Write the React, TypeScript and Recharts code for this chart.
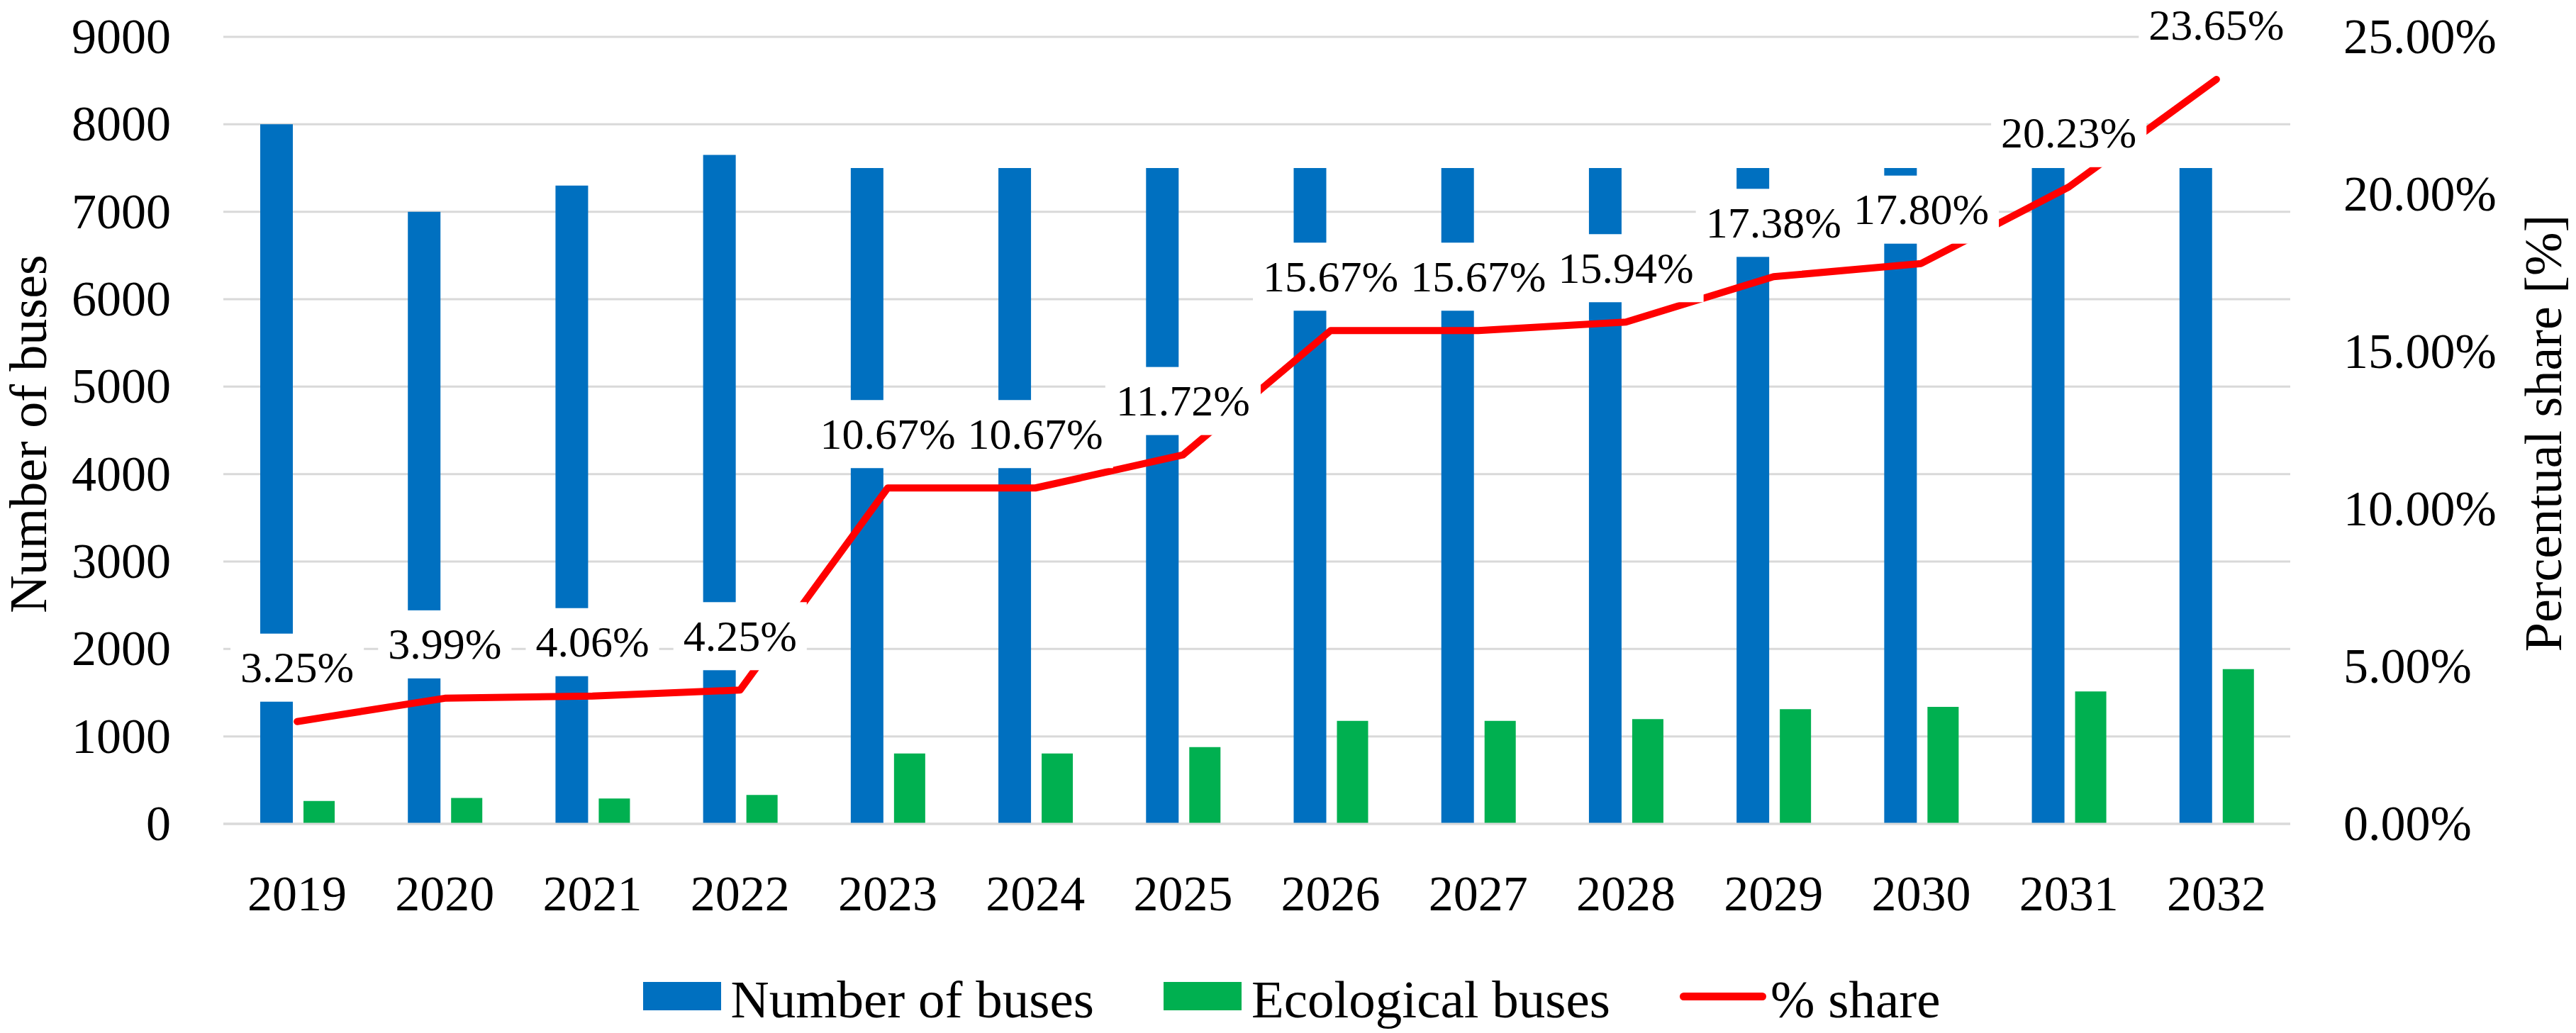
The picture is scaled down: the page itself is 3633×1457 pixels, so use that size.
import React from 'react';
import { ComposedChart, Bar, Line, XAxis, YAxis, CartesianGrid, Legend, LabelList } from 'recharts';

const years = ['2019', '2020', '2021', '2022', '2023', '2024', '2025', '2026', '2027', '2028', '2029', '2030', '2031', '2032'];
const totalBuses = [8000, 7000, 7300, 7650, 7500, 7500, 7500, 7500, 7500, 7500, 7500, 7500, 7500, 7500];
const ecoBuses = [262, 295, 290, 330, 805, 805, 878, 1178, 1178, 1198, 1312, 1337, 1515, 1770];
const sharePct = [3.25, 3.99, 4.06, 4.25, 10.67, 10.67, 11.72, 15.67, 15.67, 15.94, 17.38, 17.8, 20.23, 23.65];
const leftTicks = [0, 1000, 2000, 3000, 4000, 5000, 6000, 7000, 8000, 9000];
const rightTicks = [0, 5, 10, 15, 20, 25];

const seriesOrder = ['total', 'eco', 'share'];
const seriesNames = { total: 'Number of buses', eco: 'Ecological buses', share: '% share' };
const colors = { total: '#0070C0', eco: '#00B050', share: '#FF0000' };

const data = years.map((year, i) => ({
  year,
  total: totalBuses[i],
  eco: ecoBuses[i],
  share: sharePct[i],
}));

const FONT = '"Liberation Serif", "Times New Roman", serif';
const TICK_FS = 70;
const LABEL_FS = 62;

const charW = (c: string) => (c === '.' ? 0.25 : c === '%' ? 0.833 : 0.5);
const fmtPct = (v: number) => `${Number(v).toFixed(2)}%`;

const ShareLabel = (props: any) => {
  const { x, y, value } = props;
  const txt = fmtPct(value);
  const w = txt.split('').reduce((s, c) => s + charW(c), 0) * LABEL_FS + 28;
  const cy = y - 76;
  return (
    <g>
      <rect x={x - w / 2} y={cy - 48} width={w} height={96} fill="#ffffff" />
      <text x={x} y={cy + 0.33 * LABEL_FS} textAnchor="middle" fontFamily={FONT} fontSize={LABEL_FS} fill="#000">
        {txt}
      </text>
    </g>
  );
};

const XTick = (props: any) => {
  const { x, y, payload } = props;
  return (
    <text x={x} y={y + 122} textAnchor="middle" fontFamily={FONT} fontSize={TICK_FS} fill="#000">
      {payload.value}
    </text>
  );
};

const LeftTick = (props: any) => {
  const { x, y, payload } = props;
  return (
    <text x={x - 74} y={y + 0.33 * TICK_FS} textAnchor="end" fontFamily={FONT} fontSize={TICK_FS} fill="#000">
      {payload.value}
    </text>
  );
};

const RightTick = (props: any) => {
  const { x, y, payload } = props;
  return (
    <text x={x + 75} y={y + 0.33 * TICK_FS} textAnchor="start" fontFamily={FONT} fontSize={TICK_FS} fill="#000">
      {fmtPct(payload.value)}
    </text>
  );
};

const LeftTitle = (props: any) => {
  const vb = props.viewBox || { x: 0, y: 52, width: 315, height: 1110 };
  const cx = 65;
  const cy = vb.y + vb.height / 2 + 5;
  return (
    <text x={cx} y={cy} transform={`rotate(-90 ${cx} ${cy})`} textAnchor="middle" fontFamily={FONT} fontSize={74} fill="#000">
      Number of buses
    </text>
  );
};

const RightTitle = (props: any) => {
  const vb = props.viewBox || { x: 3230, y: 52, width: 403, height: 1110 };
  const cx = 3612;
  const cy = vb.y + vb.height / 2 + 4;
  return (
    <text x={cx} y={cy} transform={`rotate(-90 ${cx} ${cy})`} textAnchor="middle" fontFamily={FONT} fontSize={74} fill="#000">
      Percentual share [%]
    </text>
  );
};

const LegendContent = (props: any) => {
  const payload = [...(props.payload || [])].sort(
    (a: any, b: any) => seriesOrder.indexOf(a.dataKey) - seriesOrder.indexOf(b.dataKey)
  );
  return (
    <div
      style={{
        height: 100,
        display: 'flex',
        justifyContent: 'center',
        alignItems: 'center',
        fontFamily: FONT,
        fontSize: 75,
        lineHeight: 1,
        color: '#000',
        paddingLeft: 10,
      }}
    >
      {payload.map((entry: any, i: number) => {
        const isLine = entry.dataKey === 'share';
        return (
          <div key={i} style={{ display: 'flex', alignItems: 'center', marginRight: i < payload.length - 1 ? 98 : 0 }}>
            {isLine ? (
              <div style={{ width: 122, height: 11, borderRadius: 6, background: entry.color, marginRight: 6 }} />
            ) : (
              <div style={{ width: 110, height: 40, background: entry.color, marginRight: 14 }} />
            )}
            <span style={{ whiteSpace: 'nowrap', position: 'relative', top: 4 }}>{entry.value}</span>
          </div>
        );
      })}
    </div>
  );
};

export default function App() {
  return (
    <div style={{ position: 'absolute', left: 0, top: 0, width: 3633, height: 1457, background: '#fff' }}>
      <ComposedChart
        width={3633}
        height={1457}
        data={data}
        margin={{ top: 52, right: 0, left: 0, bottom: 95 }}
        barGap={15}
      >
        <CartesianGrid yAxisId="left" vertical={false} stroke="#d9d9d9" strokeWidth={3} />
        <XAxis
          dataKey="year"
          height={100}
          tickLine={false}
          tickSize={0}
          tickMargin={0}
          axisLine={{ stroke: '#d9d9d9', strokeWidth: 3 }}
          tick={<XTick />}
          interval={0}
        />
        <YAxis
          yAxisId="left"
          orientation="left"
          width={315}
          domain={[0, 9000]}
          ticks={leftTicks}
          axisLine={false}
          tickLine={false}
          tickSize={0}
          tickMargin={0}
          tick={<LeftTick />}
          label={<LeftTitle />}
        />
        <YAxis
          yAxisId="right"
          orientation="right"
          width={403}
          domain={[0, 25]}
          ticks={rightTicks}
          axisLine={false}
          tickLine={false}
          tickSize={0}
          tickMargin={0}
          tick={<RightTick />}
          label={<RightTitle />}
        />
        <Legend
          verticalAlign="bottom"
          align="center"
          content={<LegendContent />}
          wrapperStyle={{ top: 1355, bottom: 'auto', left: 0, width: 3633, height: 100 }}
        />
        <Bar yAxisId="left" dataKey="total" name={seriesNames.total} fill={colors.total} barSize={46} isAnimationActive={false} />
        <Bar yAxisId="left" dataKey="eco" name={seriesNames.eco} fill={colors.eco} barSize={44} isAnimationActive={false} />
        <Line
          yAxisId="right"
          type="linear"
          dataKey="share"
          name={seriesNames.share}
          stroke={colors.share}
          strokeWidth={10}
          strokeLinecap="round"
          strokeLinejoin="round"
          dot={false}
          activeDot={false}
          isAnimationActive={false}
        >
          <LabelList dataKey="share" content={<ShareLabel />} />
        </Line>
      </ComposedChart>
    </div>
  );
}
